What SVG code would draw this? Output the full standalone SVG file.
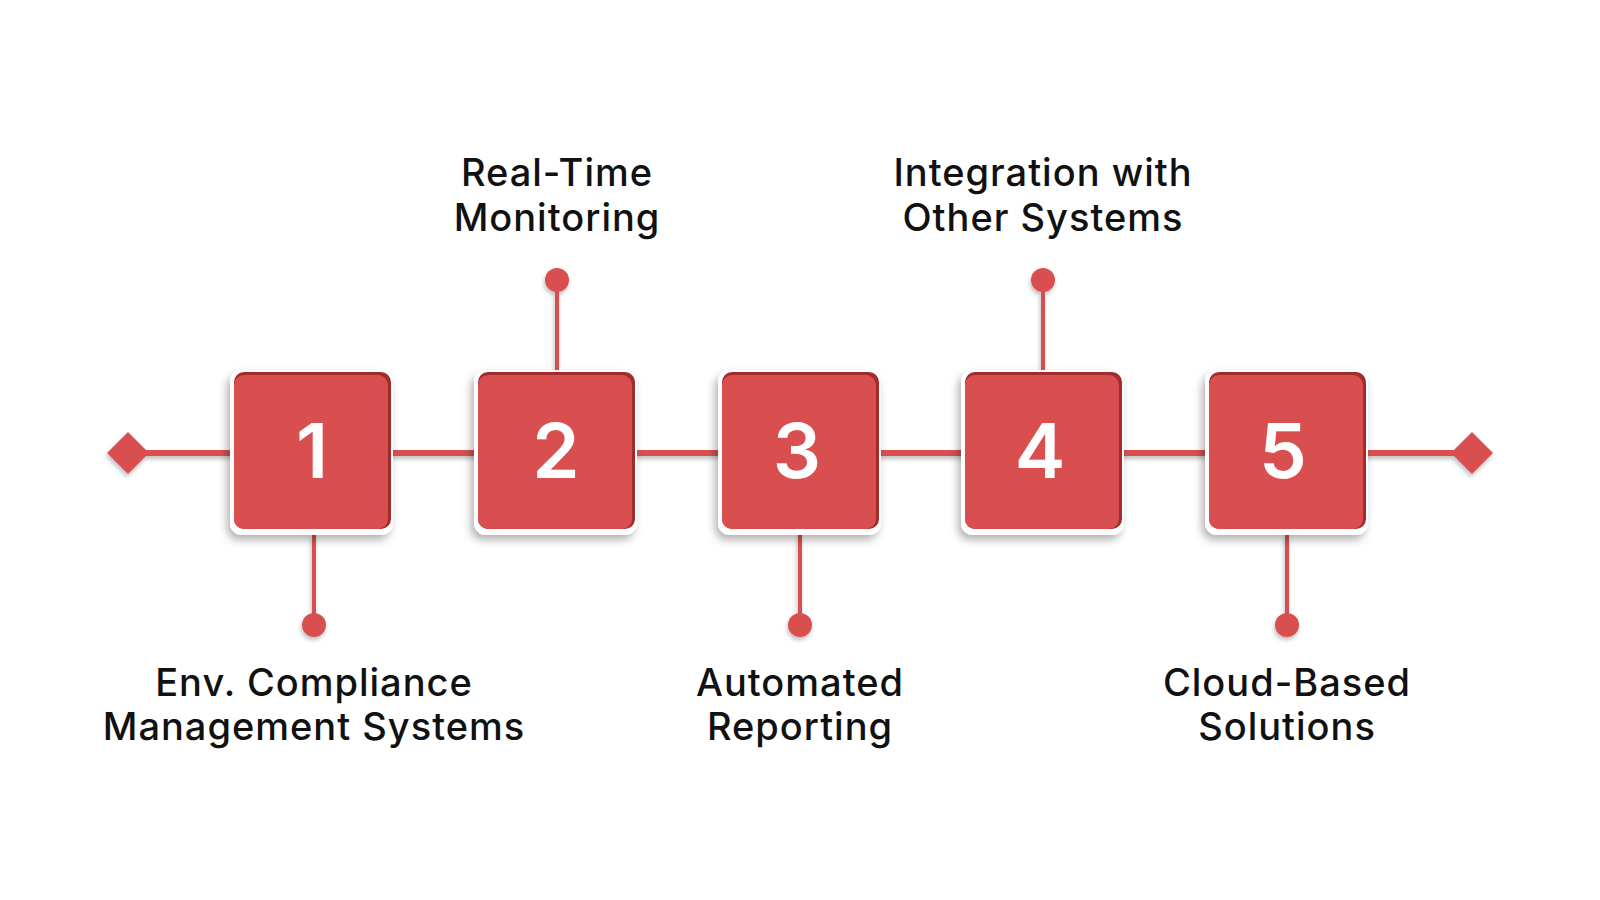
<svg xmlns="http://www.w3.org/2000/svg" width="1600" height="900" viewBox="0 0 1600 900">
<defs>
<style>
.lbl{font-family:Inter,"Noto Sans",sans-serif;font-weight:500;font-size:38px;letter-spacing:1px;fill:#111;text-anchor:middle}
.num{font-family:Inter,"Liberation Sans",sans-serif;font-weight:600;font-size:76px;fill:#fff;text-anchor:middle}
.ln{stroke:#D94F50;fill:none}
.red{fill:#D94F50}
.dark{fill:#A32B2B}
.wht{fill:#fff}
</style>
<filter id="sh" x="-30%" y="-30%" width="160%" height="160%">
<feDropShadow dx="-3" dy="5" stdDeviation="4" flood-color="#000" flood-opacity="0.3"/>
</filter>
<filter id="sh2" x="-50%" y="-50%" width="200%" height="200%">
<feDropShadow dx="-1" dy="3" stdDeviation="2" flood-color="#000" flood-opacity="0.25"/>
</filter>
<g id="box">
<rect class="wht" x="-82" y="-83" width="163" height="165" rx="12" filter="url(#sh)"/>
<rect class="dark" x="-78" y="-81" width="157" height="157" rx="10"/>
<rect class="red" x="-78" y="-78" width="154" height="154" rx="10"/>
</g>
</defs>
<rect width="1600" height="900" fill="#fff"/>
<g id="connectors" filter="url(#sh2)">
<line class="ln" x1="128" y1="453" x2="1472" y2="453" stroke-width="6"/>
<path class="red" d="M128 432 L149 453 L128 474 L107 453 Z"/>
<path class="red" d="M1472 432 L1493 453 L1472 474 L1451 453 Z"/>
<line class="ln" x1="557" y1="280" x2="557" y2="370" stroke-width="4"/>
<circle class="red" cx="557" cy="280" r="12"/>
<line class="ln" x1="1043" y1="280" x2="1043" y2="370" stroke-width="4"/>
<circle class="red" cx="1043" cy="280" r="12"/>
<line class="ln" x1="314" y1="534" x2="314" y2="625" stroke-width="4"/>
<circle class="red" cx="314" cy="625" r="12"/>
<line class="ln" x1="800" y1="534" x2="800" y2="625" stroke-width="4"/>
<circle class="red" cx="800" cy="625" r="12"/>
<line class="ln" x1="1287" y1="534" x2="1287" y2="625" stroke-width="4"/>
<circle class="red" cx="1287" cy="625" r="12"/>
</g>
<g id="node1">
<use href="#box" x="312" y="453"/>
<text class="num" x="312" y="478">1</text>
<text class="lbl" x="314" y="696">Env. Compliance</text>
<text class="lbl" x="314" y="740">Management Systems</text>
</g>
<g id="node2">
<use href="#box" x="556" y="453"/>
<text class="num" x="556" y="478">2</text>
<text class="lbl" x="557" y="186">Real-Time</text>
<text class="lbl" x="557" y="231">Monitoring</text>
</g>
<g id="node3">
<use href="#box" x="800" y="453"/>
<text class="num" x="797" y="478">3</text>
<text class="lbl" x="800" y="696">Automated</text>
<text class="lbl" x="800" y="740">Reporting</text>
</g>
<g id="node4">
<use href="#box" x="1043" y="453"/>
<text class="num" x="1040" y="478">4</text>
<text class="lbl" x="1043" y="186">Integration with</text>
<text class="lbl" x="1043" y="231">Other Systems</text>
</g>
<g id="node5">
<use href="#box" x="1287" y="453"/>
<text class="num" x="1283" y="478">5</text>
<text class="lbl" x="1287" y="696">Cloud-Based</text>
<text class="lbl" x="1287" y="740">Solutions</text>
</g>
</svg>
